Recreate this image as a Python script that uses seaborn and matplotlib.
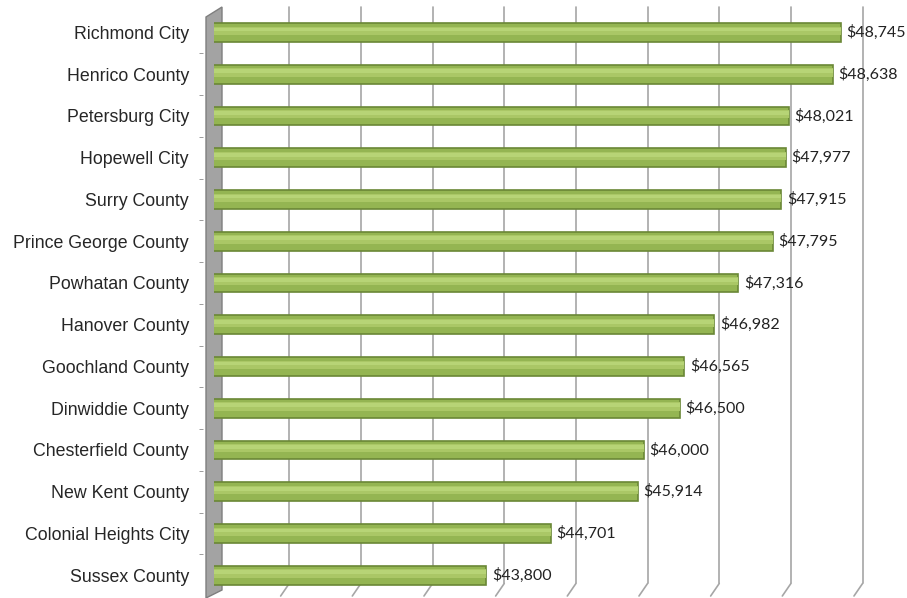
import pandas as pd
import seaborn as sns
import matplotlib.pyplot as plt
from matplotlib.patches import Polygon

# Data
places = ['Richmond City', 'Henrico County', 'Petersburg City', 'Hopewell City',
          'Surry County', 'Prince George County', 'Powhatan County', 'Hanover County',
          'Goochland County', 'Dinwiddie County', 'Chesterfield County', 'New Kent County',
          'Colonial Heights City', 'Sussex County']
income = [48745, 48638, 48021, 47977, 47915, 47795, 47316, 46982,
          46565, 46500, 46000, 45914, 44701, 43800]
grid_ticks = [41000, 42000, 43000, 44000, 45000, 46000, 47000, 48000, 49000]

sns.set_style("white")
plt.rcParams['font.family'] = ['Liberation Sans', 'DejaVu Sans']

W, H = 907, 598
fig = plt.figure(figsize=(W / 100, H / 100), dpi=100)
ax = fig.add_axes([214 / W, 1 - 596 / H, (859 - 214) / W, (596 - 7) / H])
ax.set_facecolor('none')

df = pd.DataFrame({'place': places, 'income': income})

#Gray back wall on the left
wall = Polygon([(206 / W, 1 - 17 / H), (222 / W, 1 - 7 / H), (222 / W, 1 - 590 / H), (206 / W, 0)],
               closed=True, transform=fig.transFigure, facecolor='#a3a3a3',
               edgecolor='#7f7f7f', linewidth=1, zorder=-1)
fig.patches.append(wall)

#Gridlines with the little floor stubs
for g in grid_ticks:
    ax.plot([g + 50, g + 50], [-0.61, 13.2], color='#a6a6a6', linewidth=1.2, zorder=0, clip_on=False)
    ax.plot([g + 50, g - 70], [13.2, 13.5], color='#a6a6a6', linewidth=1.2, zorder=0, clip_on=False)

#Bars
sns.barplot(data=df, x='income', y='place', orient='h', color='#94b552',
            edgecolor='#6a8736', linewidth=1.2, width=0.45, saturation=1, ax=ax, zorder=2)
bars = ax.containers[0]

#Lighter highlight band on the upper half of the bars
ax.barh([i - 0.04 for i in range(len(places))], income, height=0.2, color='#aac766',
        linewidth=0, zorder=3)
ax.barh([i - 0.07 for i in range(len(places))], income, height=0.09, color='#b7d476',
        linewidth=0, zorder=3)

ax.bar_label(bars, labels=[f'${v:,}' for v in income], padding=4,
             fontsize=11.5, family=['Lato', 'DejaVu Sans'], color='#222222')

ax.set_xlim(40000, 49000)
ax.set_ylim(13.5, -0.61)
ax.set_xlabel('')
ax.set_ylabel('')
ax.set_xticks([])

for s in ax.spines.values():
    s.set_visible(False)
ax.spines['left'].set_position(('outward', 8))
ax.set_yticks([i + 0.5 for i in range(len(places) - 1)], minor=True)
ax.tick_params(axis='y', which='major', length=0, pad=10, labelsize=12.8, labelcolor='#262626')
ax.tick_params(axis='y', which='minor', length=3, color='#8c8c8c', left=True)

fig.savefig('out.png', dpi=100)
